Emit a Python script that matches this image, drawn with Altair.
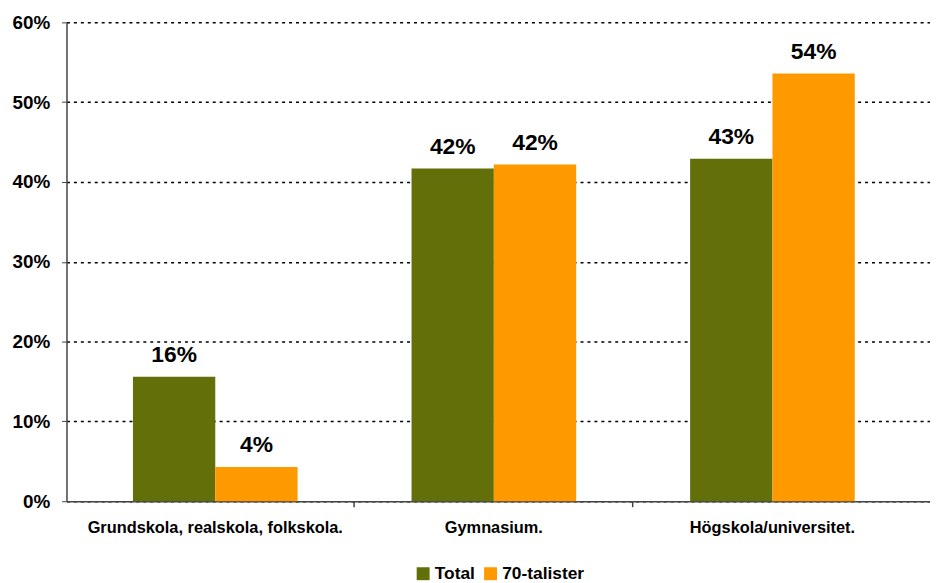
import altair as alt
import pandas as pd

categories = ["Grundskola, realskola, folkskola.", "Gymnasium.", "Högskola/universitet."]
series = ["Total", "70-talister"]
total = [0.156, 0.417, 0.429]
seventies = [0.043, 0.422, 0.536]
colors = ["#636F09", "#FF9900"]
y_ticks = [0, 0.1, 0.2, 0.3, 0.4, 0.5, 0.6]

rows = []
for c, t, s in zip(categories, total, seventies):
    rows.append({"cat": c, "serie": "Total", "val": t})
    rows.append({"cat": c, "serie": "70-talister", "val": s})
df = pd.DataFrame(rows)

font = "Liberation Sans"

xscale = alt.Scale(domain=categories, paddingInner=0.409, paddingOuter=0.2543, align=0.469)
xaxis = alt.Axis(title=None, labelAngle=0, labelFont=font, labelFontSize=16.5,
                 labelFontWeight="bold", labelColor="black", ticks=False, labelLimit=0,
                 labelPadding=19, domainColor="#444444", domainWidth=1.5)
x = alt.X("cat:N", scale=xscale, sort=categories, axis=xaxis)
y = alt.Y("val:Q", scale=alt.Scale(domain=[0, 0.6], nice=False),
          axis=alt.Axis(title=None, format="%", values=y_ticks, labelFont=font,
                        labelFontSize=19, labelFontWeight="bold", labelColor="black",
                        labelPadding=12, tickSize=5, tickColor="#444444",
                        domainColor="#444444", domainWidth=1.5,
                        grid=True, gridColor="black", gridDash=[3, 4], gridWidth=1.5))
xoff = alt.XOffset("serie:N", sort=series, scale=alt.Scale(domain=series))
color = alt.Color("serie:N", sort=series,
                  scale=alt.Scale(domain=series, range=colors),
                  legend=alt.Legend(title=None, orient="none", legendX=351, legendY=547,
                                    direction="horizontal", symbolType="square",
                                    symbolSize=170, symbolStrokeWidth=0,
                                    labelFont=font, labelFontSize=17.5,
                                    labelFontWeight="bold", labelColor="black",
                                    columnPadding=6, labelOffset=3))

bars = alt.Chart(df).mark_bar(opacity=1).encode(x=x, y=y, xOffset=xoff, color=color)
labels = alt.Chart(df).mark_text(dy=-10, baseline="bottom", font=font, fontSize=23,
                                 fontWeight="bold", color="black").encode(
    x=x, y=y, xOffset=xoff, text=alt.Text("val:Q", format=".0%"))
ticks = alt.Chart(pd.DataFrame({"cat": categories[:2]})).mark_rule(
    color="#444444", strokeWidth=1.5, xOffset=57).encode(
    x=alt.X("cat:N", scale=xscale, sort=categories, bandPosition=1, axis=xaxis),
    y=alt.value(483), y2=alt.value(489))

chart = alt.layer(bars, labels, ticks).properties(
    width=871, height=483,
    autosize=alt.AutoSizeParams(type="none"),
    padding={"left": 59, "top": 12, "right": 0, "bottom": 80},
    background="white",
).configure_view(stroke=None)

chart.save("out.html", embed_options={"renderer": "svg", "actions": False})
